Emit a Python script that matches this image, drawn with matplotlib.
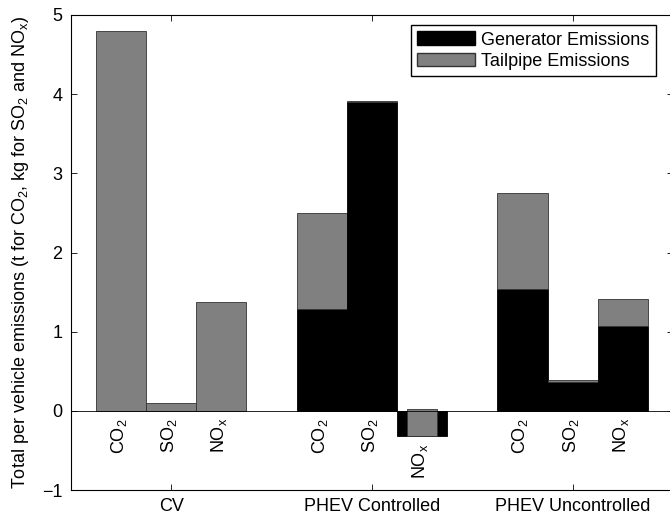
import numpy as np
import matplotlib
matplotlib.use("Agg")
import matplotlib.pyplot as plt
from matplotlib.patches import Patch

plt.rcParams['font.family'] = ['Liberation Sans', 'DejaVu Sans']
plt.rcParams['mathtext.fontset'] = 'custom'
plt.rcParams['mathtext.rm'] = 'Liberation Sans'
plt.rcParams['mathtext.it'] = 'Liberation Sans'

# data
groups = ['CV', 'PHEV Controlled', 'PHEV Uncontrolled']
pollutants = ['CO$_2$', 'SO$_2$', 'NO$_x$']
generator = [[0.0, 0.0, 0.0],
             [1.29, 3.90, -0.32],
             [1.54, 0.37, 1.07]]
tailpipe = [[4.80, 0.10, 1.37],
            [1.21, 0.02, 0.34],
            [1.21, 0.02, 0.34]]

fig = plt.figure(figsize=(6.7, 5.17), dpi=100)
ax = fig.add_axes([0.1055, 0.052, 0.899, 0.919])

w = 0.25
fs = 13
for g in range(len(groups)):
    for p in range(len(pollutants)):
        x = g + 1 + (p - 1) * w
        gen = generator[g][p]
        tail = tailpipe[g][p]
        if gen != 0:
            ax.bar(x, gen, width=w, color='black', edgecolor='black', linewidth=0.6)
        # tailpipe stacked on top of generator
        tw = w if gen >= 0 else w * 0.6
        ax.bar(x, tail, width=tw, bottom=gen, color='#808080',
               edgecolor='#333333', linewidth=0.6)
        low = min(0, gen)
        ax.text(x - 0.01, low - 0.09, pollutants[p], rotation=90, ha='center',
                va='top', fontsize=fs)

ax.axhline(0, color='black', linewidth=0.6)
ax.set_xlim(0.5, 3.5)
ax.set_ylim(-1, 5)
ax.set_xticks([1, 2, 3])
ax.set_xticklabels(groups, fontsize=fs)
ax.set_yticks(range(-1, 6))
ax.set_yticklabels(['\u22121', '0', '1', '2', '3', '4', '5'], fontsize=fs)
ax.tick_params(direction='in', top=True, right=True, length=4, width=0.6, pad=6)
for s in ax.spines.values():
    s.set_linewidth(0.8)
ax.set_ylabel('Total per vehicle emissions (t for CO$_2$, kg for SO$_2$ and NO$_x$)',
              fontsize=fs, labelpad=8)

handles = [Patch(facecolor='black', edgecolor='black', label='Generator Emissions'),
           Patch(facecolor='#808080', edgecolor='#333333', label='Tailpipe Emissions')]
ax.legend(handles=handles, loc='upper right', bbox_to_anchor=(0.98, 0.99),
          fontsize=fs, fancybox=False, edgecolor='black', framealpha=1,
          handlelength=3.2, handleheight=0.8, handletextpad=0.35,
          borderpad=0.35, labelspacing=0.22, borderaxespad=0.3)

fig.savefig('out.png', dpi=100)
